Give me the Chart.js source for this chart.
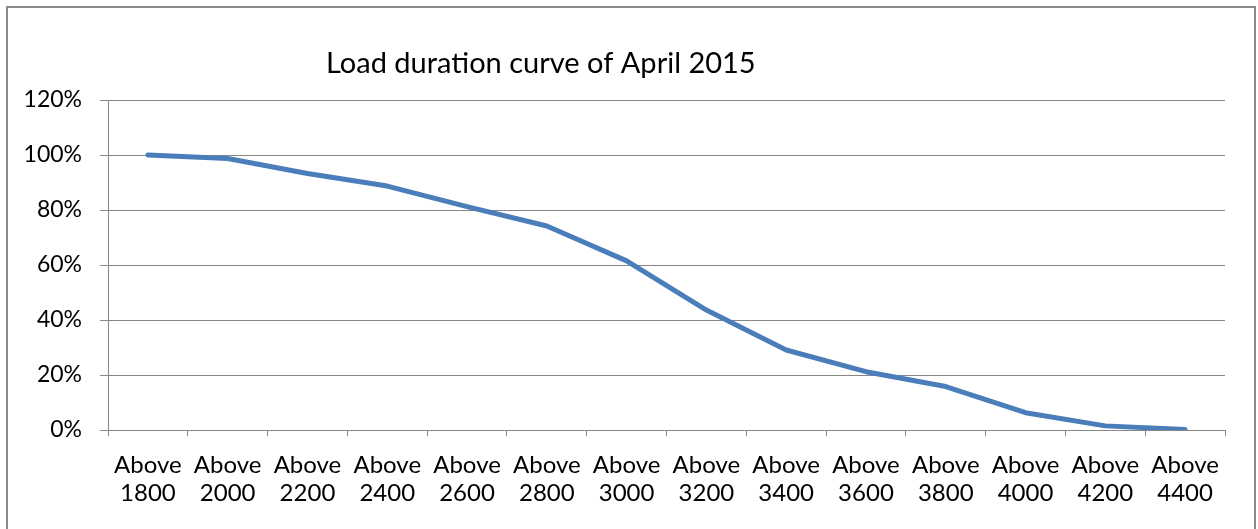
<!DOCTYPE html>
<html lang="en">
<head>
    <meta charset="UTF-8">
    <title>Load duration curve of April 2015</title>
    <script src="https://cdn.jsdelivr.net/npm/chart.js"></script>
    <style>
        html, body {
            margin: 0;
            padding: 0;
            background: #fff;
            overflow: hidden;
        }

        #frame {
            position: absolute;
            left: 6px;
            top: 6px;
            width: 1246px;
            height: 600px;
            border: 2px solid #8a8a8a;
        }

        #chart-container {
            position: absolute;
            left: 0;
            top: 0;
            width: 1258px;
            height: 529px;
        }
    </style>
</head>
<body>
    <div id="frame"></div>
    <div id="chart-container">
        <canvas id="loadChart"></canvas>
    </div>

    <script>
        const chartTitle = 'Load duration curve of April 2015';
        const thresholds = ['1800', '2000', '2200', '2400', '2600', '2800', '3000',
                            '3200', '3400', '3600', '3800', '4000', '4200', '4400'];
        const percentAbove = [100, 98.7, 93.3, 88.7, 81.2, 74.2, 61.5,
                              43.6, 29.1, 21.2, 15.8, 6.3, 1.5, 0.2];
        const yTicks = [0, 20, 40, 60, 80, 100, 120];

        const FONT = 'Lato, "Open Sans", sans-serif';
        const GRID = '#878787';

        // title sits left of centre, like the original sheet
        const titlePlugin = {
            id: 'sheetTitle',
            afterDraw(chart) {
                const ctx = chart.ctx;
                ctx.save();
                ctx.font = '29px ' + FONT;
                ctx.fillStyle = '#000';
                ctx.textAlign = 'left';
                ctx.textBaseline = 'alphabetic';
                ctx.fillText(chartTitle, 326, 73);
                ctx.restore();
            }
        };

        const ctx = document.getElementById('loadChart').getContext('2d');

        new Chart(ctx, {
            type: 'line',
            data: {
                labels: thresholds.map(t => ['Above', t]),
                datasets: [{
                    label: chartTitle,
                    data: percentAbove,
                    borderColor: '#4a7ebb',
                    borderWidth: 5,
                    borderCapStyle: 'round',
                    borderJoinStyle: 'round',
                    pointRadius: 0,
                    tension: 0,
                    fill: false
                }]
            },
            options: {
                responsive: true,
                maintainAspectRatio: false,
                animation: false,
                layout: {
                    padding: { top: 100, right: 33, bottom: 0, left: 0 }
                },
                plugins: {
                    legend: { display: false },
                    tooltip: { enabled: false }
                },
                scales: {
                    x: {
                        offset: true,
                        grid: {
                            offset: true,
                            drawOnChartArea: false,
                            drawTicks: true,
                            tickLength: 6,
                            color: GRID
                        },
                        border: { color: GRID, width: 1 },
                        ticks: {
                            color: '#000',
                            padding: 15,
                            maxRotation: 0,
                            autoSkip: false,
                            font: { family: FONT, size: 24, lineHeight: 1.17 }
                        },
                        afterFit(scale) { scale.height = 99; }
                    },
                    y: {
                        min: yTicks[0],
                        max: yTicks[yTicks.length - 1],
                        afterBuildTicks(scale) {
                            scale.ticks = yTicks.map(v => ({ value: v }));
                        },
                        grid: {
                            color: GRID,
                            tickLength: 8
                        },
                        border: { color: GRID, width: 1 },
                        ticks: {
                            color: '#000',
                            padding: 18,
                            font: { family: FONT, size: 23 },
                            callback: v => v + '%'
                        },
                        afterFit(scale) { scale.width = 108; }
                    }
                }
            },
            plugins: [titlePlugin]
        });
    </script>
</body>
</html>
